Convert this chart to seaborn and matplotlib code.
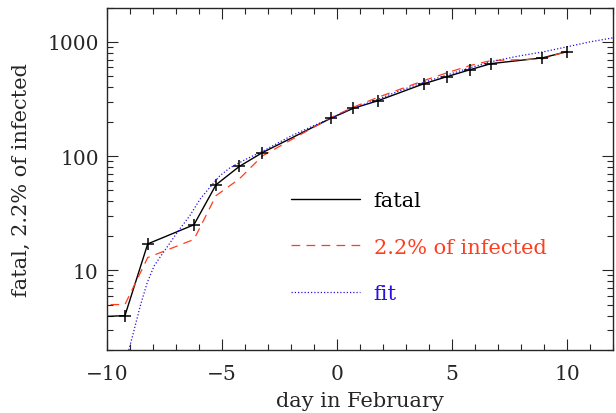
import numpy as np
import pandas as pd
import matplotlib
matplotlib.use("Agg")
import matplotlib.pyplot as plt
import seaborn as sns

# fatal cases (day in February, count)
fatal_day = [-10.5, -9.22, -8.23, -6.22, -5.26, -4.25, -3.25, -0.25, 0.71, 1.78, 3.78, 4.77, 5.78, 6.7, 8.93, 9.99]
fatal = [3.9, 4, 17, 25, 56, 81, 107, 215, 262, 305, 430, 495, 570, 645, 724, 820]

# 2.2% of infected
inf_day = fatal_day
infected22 = [5, 5, 12.9, 18.6, 45, 63, 100, 218, 268, 327, 458, 535, 620, 686, 708, 828]

# fit curve
fit_day = [-9.05, -8.85, -8.55, -8.25, -7.95, -7.65, -7.4, -6.95, -6.4, -5.95, -5.5, -5.1,
           -4.65, -3.95, -3.27, -2, -1, -0.25, 0.7, 1.75, 2.75, 3.75, 4.75, 5.75, 6.7,
           7.8, 9, 10, 11, 12]
fit = [2.0, 2.85, 4.9, 7.8, 10.9, 13.4, 15.8, 21.4, 30, 42, 54, 67,
       79, 94, 109, 150, 185, 215, 262, 312, 375, 440, 510, 590, 670,
       745, 820, 905, 1000, 1085]

black = "black"
red = "#ff3d1f"
blue = "#2a10e0"

sns.set_style("ticks")
plt.rcParams["font.family"] = ["DejaVu Serif"]
plt.rcParams["axes.linewidth"] = 1.0

fig = plt.figure(figsize=(6.16, 4.14), dpi=100)
ax = fig.add_axes([107 / 616, 63 / 414, 506 / 616, 342.5 / 414])

sns.lineplot(x=fatal_day, y=fatal, ax=ax, color=black, lw=1.0, sort=False,
             estimator=None, label="fatal")
sns.lineplot(x=inf_day, y=infected22, ax=ax, color=red, lw=0.9, sort=False,
             estimator=None, label="2.2% of infected")
ax.lines[-1].set_dashes((7, 5))
sns.lineplot(x=fit_day, y=fit, ax=ax, color=blue, lw=0.9, sort=False,
             estimator=None, label="fit")
ax.lines[-1].set_dashes((1, 1.6))
sns.scatterplot(x=fatal_day, y=fatal, ax=ax, marker="+", color=black, s=70,
                linewidth=1.1, zorder=5)

ax.set_yscale("log")
ax.set_xlim(-10, 12)
ax.set_ylim(2, 2000)
ax.set_xticks([-10, -5, 0, 5, 10])
ax.set_xticks(np.arange(-10, 13, 1), minor=True)
ax.set_yticks([10, 100, 1000])
ax.set_yticklabels(["10", "100", "1000"])

ax.tick_params(which="both", direction="in", top=True, right=True, labelsize=14.5,
               width=0.8)
ax.tick_params(which="major", length=8)
ax.tick_params(which="minor", length=4)
ax.tick_params(axis="x", which="major", pad=10)
ax.tick_params(axis="y", which="major", pad=6)
for s in ax.spines.values():
    s.set_visible(True)
    s.set_linewidth(1.0)

ax.set_xlabel("day in February", fontsize=15, labelpad=6)
ax.set_ylabel("fatal, 2.2% of infected", fontsize=15, labelpad=12)

ax.legend(loc="upper left", bbox_to_anchor=(0.3636, 0.464), frameon=False,
          fontsize=15, handlelength=3.3, handletextpad=0.67, labelspacing=1.32,
          borderpad=0, borderaxespad=0, labelcolor="linecolor")

fig.savefig("out.png", dpi=100)
